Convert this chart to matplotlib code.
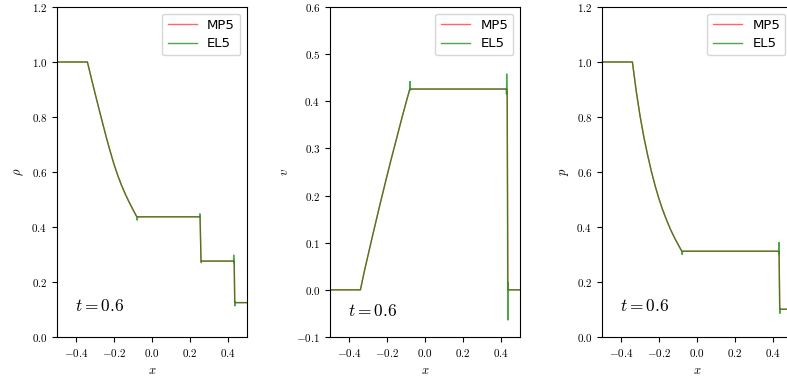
#!/usr/bin/env python3
"""
Shock tube profiles at t = 0.6: density, velocity and pressure for MP5 vs EL5.
"""

import numpy as np
import matplotlib.pyplot as plt
from matplotlib.ticker import FuncFormatter, MultipleLocator

plt.rcParams['mathtext.fontset'] = 'cm'

# Rarefaction fan
x_fan = [-0.50, -0.34, -0.32, -0.30, -0.28, -0.26, -0.24, -0.22, -0.20,
         -0.18, -0.16, -0.14, -0.12, -0.10, -0.08]
rho_fan = [1.0, 1.0, 0.943, 0.887, 0.832, 0.778, 0.725, 0.675, 0.628,
           0.587, 0.551, 0.519, 0.490, 0.463, 0.437]
v_fan = [0.0, 0.0, 0.038, 0.073, 0.108, 0.142, 0.176, 0.209, 0.242,
         0.274, 0.305, 0.336, 0.367, 0.397, 0.426]
p_fan = [1.0, 1.0, 0.895, 0.805, 0.728, 0.662, 0.602, 0.549, 0.502,
         0.461, 0.425, 0.392, 0.363, 0.337, 0.312]

# MP5: plateaus and jumps
x_rho_mp5 = [0.253, 0.258, 0.432, 0.436, 0.50]
rho_mp5 = [0.437, 0.276, 0.276, 0.125, 0.125]
x_v_mp5 = [0.432, 0.437, 0.50]
v_mp5 = [0.426, 0.0, 0.0]
x_p_mp5 = [0.432, 0.436, 0.50]
p_mp5 = [0.312, 0.101, 0.101]

# EL5: same states with overshoots at the jumps
x_rho_el5 = [-0.078, -0.075, 0.251, 0.252, 0.253, 0.258, 0.259, 0.261,
             0.429, 0.430, 0.431, 0.433, 0.435, 0.436, 0.437, 0.439, 0.50]
rho_el5 = [0.425, 0.437, 0.437, 0.448, 0.437, 0.276, 0.270, 0.276,
           0.276, 0.298, 0.270, 0.280, 0.125, 0.113, 0.130, 0.125, 0.125]
x_v_el5 = [-0.079, -0.077, -0.074, 0.428, 0.429, 0.430, 0.431, 0.433,
           0.435, 0.436, 0.437, 0.438, 0.50]
v_el5 = [0.442, 0.424, 0.426, 0.426, 0.415, 0.458, 0.420, 0.405,
         0.012, -0.064, 0.015, 0.0, 0.0]
x_p_el5 = [-0.078, -0.075, 0.429, 0.430, 0.431, 0.432, 0.435, 0.436,
           0.437, 0.439, 0.50]
p_el5 = [0.300, 0.312, 0.312, 0.300, 0.344, 0.305, 0.102, 0.086,
         0.104, 0.101, 0.101]

T_LABEL = r'$t = 0.6$'


def tick_fmt(val, pos):
    s = f'{val:.1f}'
    if s == '-0.0':
        s = '0.0'
    return f'${s}$'


def draw_panel(ax, x_mp5, y_mp5, x_el5, y_el5, fan, ylabel, ylim, ystep, ty):
    xm = np.concatenate([x_fan, x_mp5])
    ym = np.concatenate([fan, y_mp5])
    xe = np.concatenate([x_fan, x_el5])
    ye = np.concatenate([fan, y_el5])
    ax.plot(xm, ym, color='red', alpha=0.6, lw=1.0, label='MP5')
    ax.plot(xe, ye, color='green', alpha=0.7, lw=1.0, label='EL5')
    ax.set_xlim(-0.5, 0.5)
    ax.set_ylim(*ylim)
    ax.xaxis.set_major_locator(MultipleLocator(0.2))
    ax.yaxis.set_major_locator(MultipleLocator(ystep))
    ax.xaxis.set_major_formatter(FuncFormatter(tick_fmt))
    ax.yaxis.set_major_formatter(FuncFormatter(tick_fmt))
    ax.tick_params(labelsize=8)
    ax.set_xlabel(r'$x$', fontsize=9)
    ax.set_ylabel(ylabel, fontsize=9)
    ax.text(0.095, ty, T_LABEL, transform=ax.transAxes, fontsize=12.5)
    ax.legend(loc='upper right', fontsize=9.5, handlelength=2.2,
              labelspacing=0.4)


def main():
    fig = plt.figure(figsize=(7.87, 3.81), dpi=100)
    W, H = 787, 381
    boxes = [57, 330, 602]
    axes = [fig.add_axes([l / W, (H - 337) / H, 190 / W, 330 / H]) for l in boxes]

    draw_panel(axes[0], x_rho_mp5, rho_mp5, x_rho_el5, rho_el5, rho_fan,
               r'$\rho$', (0.0, 1.2), 0.2, 0.08)
    draw_panel(axes[1], x_v_mp5, v_mp5, x_v_el5, v_el5, v_fan,
               r'$v$', (-0.1, 0.6), 0.1, 0.065)
    draw_panel(axes[2], x_p_mp5, p_mp5, x_p_el5, p_el5, p_fan,
               r'$p$', (0.0, 1.2), 0.2, 0.08)

    fig.savefig('out.png', dpi=100, facecolor='white')
    plt.close(fig)


if __name__ == '__main__':
    main()
